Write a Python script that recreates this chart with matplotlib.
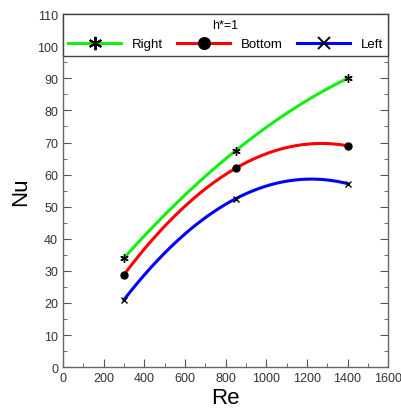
import matplotlib.pyplot as plt
import numpy as np
from matplotlib.ticker import MultipleLocator

plt.rcParams['font.family'] = ['Liberation Sans', 'DejaVu Sans']

re = [300, 850, 1400]
nu_right = [34.0, 67.5, 90.0]
nu_bottom = [28.8, 62.0, 69.0]
nu_left = [21.0, 52.5, 57.2]

series = [
    ("Right", nu_right, "#11ee11", (6, 2, 0), 6),
    ("Bottom", nu_bottom, "#ff0000", "o", 5),
    ("Left", nu_left, "#0000ff", "x", 5),
]

fig = plt.figure(figsize=(4.01, 4.10), dpi=100)
ax = fig.add_axes([0.157, 0.102, 0.811, 0.861])

xs = np.linspace(re[0], re[-1], 200)
for name, nu, col, mk, ms in series:
    c = np.polyfit(re, nu, 2)  # smooth curve through the 3 points
    ax.plot(xs, np.polyval(c, xs), color=col, lw=2.2, zorder=2)
    ax.plot(re, nu, ls="none", marker=mk, color="black", ms=ms, mew=1.0, zorder=3)
    ax.plot([], [], color=col, lw=2.2, marker=mk, mfc="black", mec="black",
            ms=ms * 1.6, mew=1.4, label=name)

ax.set_xlim(0, 1600)
ax.set_ylim(0, 110)
ax.xaxis.set_major_locator(MultipleLocator(200))
ax.xaxis.set_minor_locator(MultipleLocator(100))
ax.yaxis.set_major_locator(MultipleLocator(10))
ax.yaxis.set_minor_locator(MultipleLocator(5))
ax.tick_params(which="both", direction="in", top=True, right=True,
               colors="#555555", labelcolor="#333333", labelsize=9)
ax.tick_params(which="major", length=6)
ax.tick_params(which="minor", length=3)
for s in ax.spines.values():
    s.set_color("#666666")
    s.set_linewidth(1.0)

ax.set_xlabel("Re", fontsize=16, labelpad=2)
ax.set_ylabel("Nu", fontsize=16, labelpad=4)

leg = ax.legend(loc="upper left", bbox_to_anchor=(0, 1.0, 1.0, 0.0), mode="expand",
                ncol=3, title="h*=1", title_fontsize=9, fontsize=9.5,
                frameon=True, fancybox=False, edgecolor="#444444",
                handlelength=4.0, handletextpad=0.8, columnspacing=0.6,
                borderaxespad=0.0, borderpad=0.4, framealpha=1.0)
leg.get_frame().set_linewidth(1.0)

fig.savefig("out.png", dpi=100)
